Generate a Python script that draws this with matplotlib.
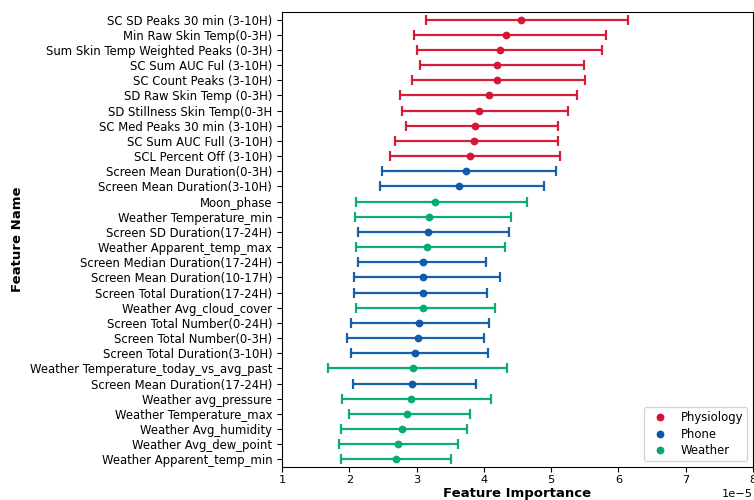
import matplotlib
matplotlib.use("Agg")
import matplotlib.pyplot as plt
from matplotlib.lines import Line2D

# Feature importance (mean, lower, upper), units of 1e-5
features = [
    'SC SD Peaks 30 min (3-10H)',
    'Min Raw Skin Temp(0-3H)',
    'Sum Skin Temp Weighted Peaks (0-3H)',
    'SC Sum AUC Ful (3-10H)',
    'SC Count Peaks (3-10H)',
    'SD Raw Skin Temp (0-3H)',
    'SD Stillness Skin Temp(0-3H',
    'SC Med Peaks 30 min (3-10H)',
    'SC Sum AUC Full (3-10H)',
    'SCL Percent Off (3-10H)',
    'Screen Mean Duration(0-3H)',
    'Screen Mean Duration(3-10H)',
    'Moon_phase',
    'Weather Temperature_min',
    'Screen SD Duration(17-24H)',
    'Weather Apparent_temp_max',
    'Screen Median Duration(17-24H)',
    'Screen Mean Duration(10-17H)',
    'Screen Total Duration(17-24H)',
    'Weather Avg_cloud_cover',
    'Screen Total Number(0-24H)',
    'Screen Total Number(0-3H)',
    'Screen Total Duration(3-10H)',
    'Weather Temperature_today_vs_avg_past',
    'Screen Mean Duration(17-24H)',
    'Weather avg_pressure',
    'Weather Temperature_max',
    'Weather Avg_humidity',
    'Weather Avg_dew_point',
    'Weather Apparent_temp_min',
]

groups = (['Physiology'] * 10 + ['Phone'] * 2 + ['Weather'] * 2 + ['Phone', 'Weather']
          + ['Phone'] * 3 + ['Weather'] + ['Phone'] * 3 + ['Weather', 'Phone'] + ['Weather'] * 5)

importance = [4.55, 4.33, 4.24, 4.20, 4.19, 4.07, 3.93, 3.87, 3.86, 3.80,
              3.74, 3.63, 3.28, 3.18, 3.17, 3.15, 3.10, 3.09, 3.09, 3.09,
              3.04, 3.02, 2.97, 2.95, 2.93, 2.92, 2.86, 2.79, 2.72, 2.69]

lower = [3.14, 2.96, 3.00, 3.05, 2.93, 2.76, 2.79, 2.85, 2.68, 2.60,
         2.49, 2.46, 2.10, 2.08, 2.13, 2.10, 2.13, 2.07, 2.07, 2.10,
         2.02, 1.97, 2.03, 1.69, 2.06, 1.89, 1.99, 1.87, 1.84, 1.87]

upper = [6.14, 5.82, 5.75, 5.49, 5.50, 5.38, 5.25, 5.10, 5.10, 5.13,
         5.07, 4.90, 4.64, 4.40, 4.37, 4.31, 4.03, 4.24, 4.05, 4.17,
         4.08, 4.00, 4.06, 4.34, 3.88, 4.11, 3.80, 3.75, 3.61, 3.51]

colors = {'Physiology': '#d3132f', 'Phone': '#0b58a8', 'Weather': '#00aa6e'}
legend_order = ['Physiology', 'Phone', 'Weather']

fig = plt.figure(figsize=(7.54, 5.0), dpi=100)
ax = fig.add_axes([282 / 754, 33 / 500, 471 / 754, 455 / 500])

for i, name in enumerate(features):
    c = colors[groups[i]]
    m = importance[i] * 1e-5
    ax.errorbar(m, i,
                xerr=[[m - lower[i] * 1e-5], [upper[i] * 1e-5 - m]],
                fmt='o', color=c, ecolor=c, elinewidth=1.6, capsize=3.5,
                capthick=1.6, markersize=4.6, alpha=0.95)

ax.set_yticks(range(len(features)))
ax.set_yticklabels(features, fontsize=8.4)
ax.set_ylim(len(features) - 0.5, -0.5)
ax.set_xlim(1e-5, 8e-5)
ax.set_xticks([i * 1e-5 for i in range(1, 9)])
ax.tick_params(axis='x', labelsize=8.2, pad=2)
ax.xaxis.get_offset_text().set_fontsize(8.2)

ax.set_xlabel('Feature Importance', fontsize=9.5, fontweight='bold', labelpad=2)
ax.set_ylabel('Feature Name', fontsize=9.5, fontweight='bold')

handles = [Line2D([], [], marker='o', linestyle='none', color=colors[g],
                  markersize=4.6, label=g) for g in legend_order]
ax.legend(handles=handles, loc='lower right', fontsize=8.4,
          labelspacing=0.3, borderpad=0.35)

fig.savefig('out.png', dpi=100)
